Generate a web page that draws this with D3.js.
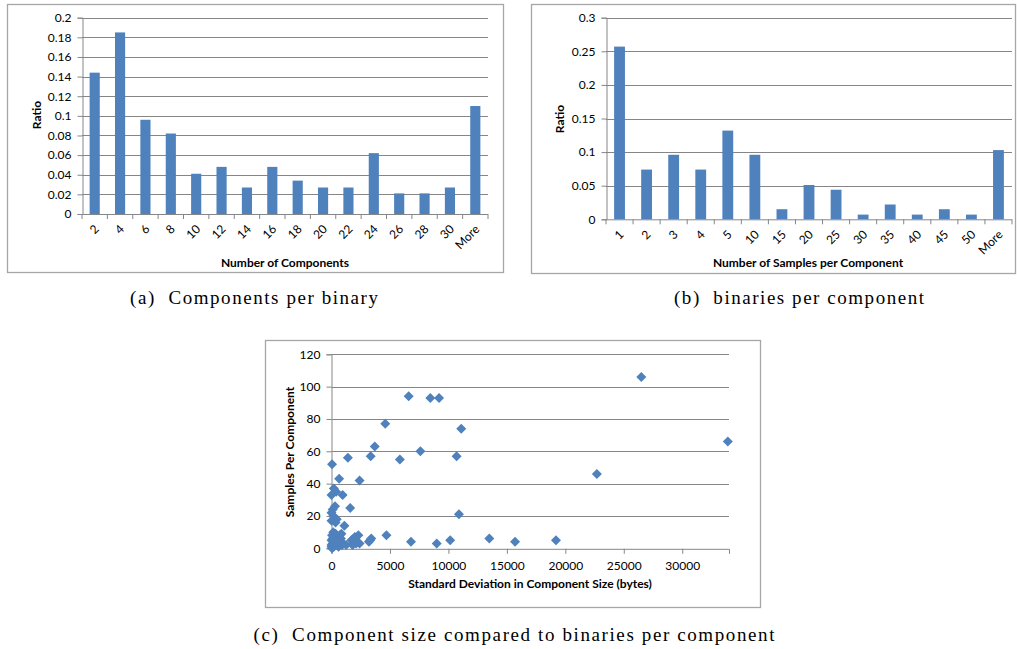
<!DOCTYPE html>
<html><head><meta charset="utf-8">
<script src="https://cdn.jsdelivr.net/npm/d3@7"></script>
<style>
body{margin:0;background:#fff;}
svg{display:block;}
.xl text{font-family:Lato,"Liberation Sans",sans-serif;}
</style></head>
<body>
<svg id="c" width="1017" height="649"></svg>
<script>
// ---- data ----
const catsA = ["2","4","6","8","10","12","14","16","18","20","22","24","26","28","30","More"];
const valsA = [0.144,0.185,0.096,0.082,0.041,0.048,0.027,0.048,0.034,0.027,0.027,0.062,0.021,0.021,0.027,0.110];
const ticksA = [0,0.02,0.04,0.06,0.08,0.1,0.12,0.14,0.16,0.18,0.2];

const catsB = ["1","2","3","4","5","10","15","20","25","30","35","40","45","50","More"];
const valsB = [0.257,0.074,0.096,0.074,0.132,0.096,0.015,0.051,0.044,0.007,0.022,0.007,0.015,0.007,0.103];
const ticksB = [0,0.05,0.1,0.15,0.2,0.25,0.3];

const scatterX = [6600,8450,9200,26500,4600,11100,33900,3700,7600,3350,1400,10700,5850,50,22700,650,2400,200,400,0,950,300,1600,100,0,10900,150,450,0,350,1100,
  4700,6800,9000,10150,13500,15700,19200,3400,3200,3300,2300,2400,1900,2100,1800,1700,2000,900,800,700,600,500,400,300,250,200,150,100,50,0,0,0,50,350,600,750,1000,150,450,250,100,2200,550,850,1250];
const scatterY = [94,93,93,106,77,74,66,63,60,57,56,57,55,52,46,43,42,37,35,33,33,26,25,24,22,21,20,18,17,16,14,
  8,4,3,5,6,4,5,6,4,5,8,3,6,3,2,5,7,2,6,8,3,5,2,7,4,1,6,3,8,2,5,1,0,9,1,4,3,10,7,2,6,4,4,9,2];
const ticksCX = [0,5000,10000,15000,20000,25000,30000];
const ticksCY = [0,20,40,60,80,100,120];

const captions = ["(a)  Components per binary","(b)  binaries per component","(c)  Component size compared to binaries per component"];

// ---- style ----
const BAR = "#4f81bd", GRID = "#868686", AXIS = "#868686", FRAME = "#a6a6a6";
const svg = d3.select("#c");
const fmt = d => String(+d.toFixed(2));

function frame(x0,y0,x1,y1){
  svg.append("rect").attr("x",x0+0.5).attr("y",y0+0.5).attr("width",x1-x0).attr("height",y1-y0)
    .attr("fill","none").attr("stroke",FRAME).attr("stroke-width",1.3);
}

function barChart(o){
  const g = svg.append("g").attr("class","xl");
  frame(o.fx0,o.fy0,o.fx1,o.fy1);
  const x = d3.scaleBand().domain(o.cats).range([o.left,o.right]).paddingInner(0.6).paddingOuter(0.3);
  const y = d3.scaleLinear().domain([0,o.ymax]).range([o.bottom,o.top]);
  g.selectAll("line.grid").data(o.ticks.slice(1)).join("line")
    .attr("x1",o.left).attr("x2",o.right).attr("y1",d=>Math.round(y(d))+0.5).attr("y2",d=>Math.round(y(d))+0.5)
    .attr("stroke",GRID).attr("stroke-width",1);
  const ya = g.append("g").attr("transform",`translate(${o.left+0.5},0)`)
    .call(d3.axisLeft(y).tickValues(o.ticks).tickFormat(fmt).tickSize(5).tickPadding(6));
  ya.select(".domain").attr("stroke",AXIS);
  ya.selectAll(".tick line").attr("stroke",AXIS);
  ya.selectAll("text").attr("font-size",12).attr("fill","#000").attr("font-family","Lato,sans-serif");
  g.selectAll("rect.bar").data(o.vals).join("rect")
    .attr("x",(d,i)=>x(o.cats[i])).attr("width",x.bandwidth())
    .attr("y",d=>y(d)).attr("height",d=>o.bottom-y(d)).attr("fill",BAR);
  g.append("line").attr("x1",o.left).attr("x2",o.right).attr("y1",o.bottom+0.5).attr("y2",o.bottom+0.5).attr("stroke",AXIS);
  const step = x.step();
  g.selectAll("line.xt").data(d3.range(o.cats.length+1)).join("line")
    .attr("x1",i=>o.left+i*step).attr("x2",i=>o.left+i*step)
    .attr("y1",o.bottom).attr("y2",o.bottom+5).attr("stroke",AXIS);
  g.selectAll("text.xl").data(o.cats).join("text")
    .attr("transform",d=>`translate(${x(d)+x.bandwidth()/2-1},${o.bottom+10}) rotate(-45)`)
    .attr("text-anchor","end").attr("dy","0.7em").attr("font-size",12).text(d=>d);
  g.append("text").attr("x",o.xtx).attr("y",o.xty).attr("text-anchor","middle")
    .attr("font-size",12).attr("font-weight","bold").text(o.xtitle);
  g.append("text").attr("transform",`translate(${o.ytx},${o.yty}) rotate(-90)`).attr("text-anchor","middle")
    .attr("dy","0.35em").attr("font-size",12).attr("font-weight","bold").text("Ratio");
}

barChart({fx0:7,fy0:4,fx1:503,fy1:272,left:82,right:488,top:17.7,bottom:214,ymax:0.2,
  cats:catsA,vals:valsA,ticks:ticksA,xtitle:"Number of Components",xtx:285,xty:267,ytx:37,yty:115});
barChart({fx0:531,fy0:4,fx1:1015,fy1:273,left:606,right:1012,top:17.7,bottom:219.3,ymax:0.3,
  cats:catsB,vals:valsB,ticks:ticksB,xtitle:"Number of Samples per Component",xtx:808,xty:267,ytx:560,yty:119});

// scatter
(function(){
  const g = svg.append("g").attr("class","xl");
  frame(265,340,760,607);
  const L=331.5,R=729,T=354.3,B=548.3;
  const x = d3.scaleLinear().domain([0,34000]).range([L,R]);
  const y = d3.scaleLinear().domain([0,120]).range([B,T]);
  g.selectAll("line.grid").data(ticksCY.slice(1)).join("line")
    .attr("x1",L).attr("x2",R).attr("y1",d=>Math.round(y(d))+0.5).attr("y2",d=>Math.round(y(d))+0.5)
    .attr("stroke",GRID);
  const ya = g.append("g").attr("transform",`translate(${L},0)`)
    .call(d3.axisLeft(y).tickValues(ticksCY).tickSize(5).tickPadding(6));
  ya.select(".domain").attr("stroke",AXIS);
  ya.selectAll(".tick line").attr("stroke",AXIS);
  ya.selectAll("text").attr("font-size",12).attr("fill","#000").attr("font-family","Lato,sans-serif");
  const xa = g.append("g").attr("transform",`translate(0,${B+0.5})`)
    .call(d3.axisBottom(x).tickValues(ticksCX).tickFormat(d3.format("d")).tickSize(5).tickPadding(8));
  xa.select(".domain").attr("stroke",AXIS);
  xa.selectAll(".tick line").attr("stroke",AXIS);
  xa.selectAll("text").attr("font-size",12).attr("fill","#000").attr("font-family","Lato,sans-serif");
  const sym = d3.symbol().type(d3.symbolSquare).size(50);
  g.selectAll("path.pt").data(scatterX).join("path")
    .attr("d",sym).attr("fill",BAR)
    .attr("transform",(d,i)=>`translate(${x(d)},${y(scatterY[i])}) rotate(45)`);
  g.append("text").attr("x",530).attr("y",588).attr("text-anchor","middle")
    .attr("font-size",12).attr("font-weight","bold").text("Standard Deviation in Component Size (bytes)");
  g.append("text").attr("transform",`translate(290,452) rotate(-90)`).attr("text-anchor","middle")
    .attr("dy","0.35em").attr("font-size",12).attr("font-weight","bold").text("Samples Per Component");
})();

// captions
const capPos = [[254,304,248],[799,304,250],[514,641,521]];
svg.selectAll("text.cap").data(captions).join("text")
  .attr("x",(d,i)=>capPos[i][0]-capPos[i][2]/2).attr("y",(d,i)=>capPos[i][1])
  .attr("textLength",(d,i)=>capPos[i][2]).attr("lengthAdjust","spacing")
  .attr("font-family","'Liberation Serif',serif").attr("font-size",19)
  .style("white-space","pre").text(d=>d);
</script>
</body></html>
